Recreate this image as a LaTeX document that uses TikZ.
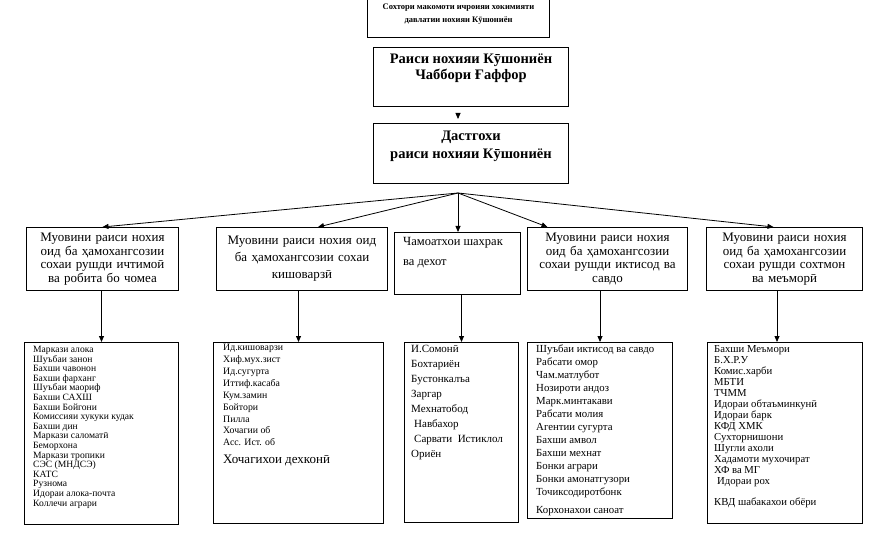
\documentclass[tikz,border=0pt]{standalone}
\usepackage{fontspec}
\setmainfont{Liberation Serif}
\usetikzlibrary{arrows.meta,positioning}

\begin{document}
\begin{tikzpicture}[x=1pt, y=-1pt, every node/.style={font=\fontsize{13}{13.5}\selectfont},
  frame/.style={draw, line width=1pt, inner sep=0pt, anchor=north west},
  deputy/.style={frame, align=center, text width=#1, minimum height=63},
  title/.style={inner sep=0pt, align=center, font=\fontsize{14.5}{15.5}\selectfont\bfseries},
  entries/.style={inner sep=0pt, anchor=north west, align=left},
  arr/.style={-{Triangle[length=6pt,width=5pt]}, line width=0.8pt}]
\useasboundingbox (0,0) rectangle (886,537);

% top of the chart
\node[frame, minimum width=182, minimum height=47] (struct) at (367,-10) {};
\node[title, font=\fontsize{8.5}{13}\selectfont\bfseries] (structtxt) at (struct.center)
  {Сохтори макомоти ичроияи хокимияти\\давлатии нохияи Кӯшониён};
\node[frame, minimum width=195, minimum height=59] (head) at (373,47) {};
\node[title, below=7pt of head.north] (headtxt) {Раиси нохияи Кӯшониён\\Чаббори Ғаффор};
\node[frame, minimum width=195, minimum height=60] (office) at (373,123) {};
\node[title, font=\fontsize{14.5}{17.5}\selectfont\bfseries, below=8pt of office.north] (officetxt)
  {Дастгохи\\раиси нохияи Кӯшониён};
\coordinate (hub) at (458,193);

% deputies
\node[deputy=146, minimum width=152] (deputyA) at (26,227)
  {Муовини раиси нохия\\оид ба ҳамохангсозии\\сохаи рушди ичтимоӣ\\ва робита бо чомеа};
\node[deputy=165, minimum width=171, font=\fontsize{13}{17}\selectfont] (deputyB) at (216,227)
  {Муовини раиси нохия оид\\ба ҳамохангсозии сохаи\\кишоварзӣ};
\node[frame, minimum width=126, minimum height=62] (council) at (394,232) {};
\node[entries, font=\fontsize{12.5}{20}\selectfont] (counciltxt) at ([shift={(9,5)}]council.north west)
  {Чамоатхои шахрак\\ва дехот};
\node[deputy=154, minimum width=160] (deputyD) at (527,227)
  {Муовини раиси нохия\\оид ба ҳамохангсозии\\сохаи рушди иктисод ва\\савдо};
\node[deputy=150, minimum width=156] (deputyE) at (706,227)
  {Муовини раиси нохия\\оид ба ҳамохангсозии\\сохаи рушди сохтмон\\ва меъморӣ};

% lists
\node[frame, minimum width=154, minimum height=182] (listA) at (24,342) {};
\node[entries, font=\fontsize{9.6}{9.6}\selectfont] (listAtxt) at ([shift={(9,4)}]listA.north west)
  {Маркази алока\\Шуъбаи занон\\Бахши чавонон\\Бахши фарханг\\Шуъбаи маориф\\Бахши САХШ\\Бахши Бойгони\\Комиссияи хукуки кудак\\Бахши дин\\Маркази саломатӣ\\Беморхона\\Маркази тропики\\СЭС (МНДСЭ)\\КАТС\\Рузнома\\Идораи алока-почта\\Коллечи аграри};
\node[frame, minimum width=170, minimum height=181] (listB) at (213,342) {};
\node[entries, font=\fontsize{9.8}{11.9}\selectfont] (listBtxt) at ([shift={(10,2)}]listB.north west)
  {Ид.кишоварзи\\Хиф.мух.зист\\Ид.сугурта\\Иттиф.касаба\\Кум.замин\\Бойтори\\Пилла\\Хочагии об\\Асс. Ист. об\\[6pt]{\fontsize{13}{13}\selectfont Хочагихои дехконӣ}};
\node[frame, minimum width=114, minimum height=180] (listC) at (404,342) {};
\node[entries, font=\fontsize{11}{15}\selectfont] (listCtxt) at ([shift={(7,3)}]listC.north west)
  {И.Сомонӣ\\Бохтариён\\Бустонкалъа\\Заргар\\Мехнатобод\\\hspace{3pt}Навбахор\\\hspace{3pt}Сарвати\ \ Истиклол\\Ориён};
\node[frame, minimum width=145, minimum height=176] (listD) at (527,342) {};
\node[entries, font=\fontsize{10.8}{13}\selectfont] (listDtxt) at ([shift={(9,3)}]listD.north west)
  {Шуъбаи иктисод ва савдо\\Рабсати омор\\Чам.матлубот\\Нозироти андоз\\Марк.минтакави\\Рабсати молия\\Агентии сугурта\\Бахши амвол\\Бахши мехнат\\Бонки аграри\\Бонки амонатгузори\\Точиксодиротбонк\\[5pt]Корхонахои саноат};
\node[frame, minimum width=155, minimum height=181] (listE) at (707,342) {};
\node[entries, font=\fontsize{10.7}{11}\selectfont] (listEtxt) at ([shift={(7,3)}]listE.north west)
  {Бахши Меъмори\\Б.Х.Р.У\\Комис.харби\\МБТИ\\ТЧММ\\Идораи обтаъминкунӣ\\Идораи барк\\КФД ХМК\\Сухторнишони\\Шугли ахоли\\Хадамоти мухочират\\ХФ ва МГ\\\hspace{3pt}Идораи рох\\[10pt]КВД шабакахои обёри};

% connectors
\draw[arr, shorten <=7pt, shorten >=4pt] (head.south -| hub) -- (office.north -| hub);
\draw[arr] (hub) -- (deputyA.north);
\draw[arr] (hub) -- ([xshift=16pt]deputyB.north);
\draw[arr] (hub) -- (hub |- council.north);
\draw[arr] (hub) -- ([xshift=-60pt]deputyD.north);
\draw[arr] (hub) -- ([xshift=-11pt]deputyE.north);
\draw[arr] (deputyA.south -| listA.north) -- (listA.north);
\draw[arr] (deputyB.south -| listB.north) -- (listB.north);
\draw[arr] (council.south -| listC.north) -- (listC.north);
\draw[arr] (deputyD.south -| listD.north) -- (listD.north);
\draw[arr] ([xshift=-8pt]deputyE.south -| listE.north) -- ([xshift=-8pt]listE.north);
\end{tikzpicture}
\end{document}
